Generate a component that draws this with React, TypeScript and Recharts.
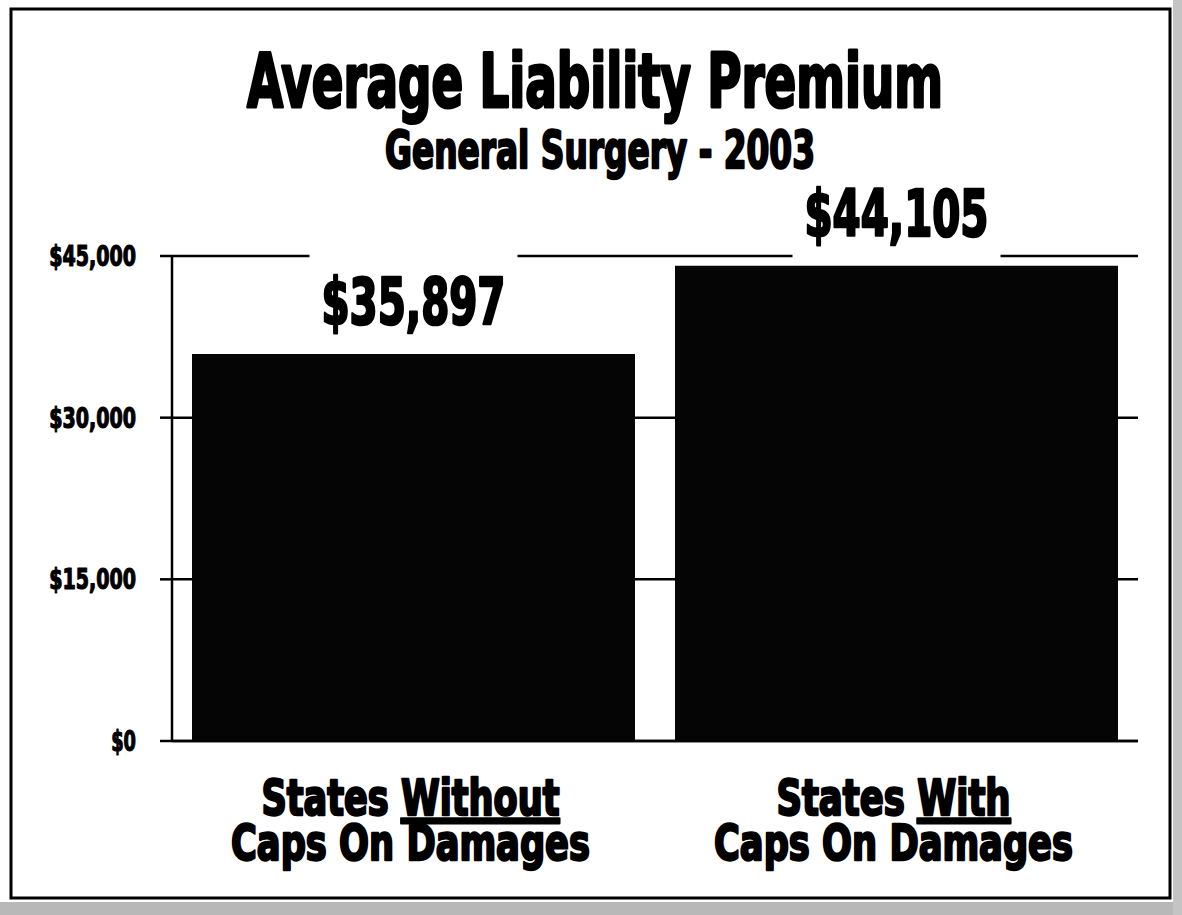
import { useLayoutEffect, useRef, useState } from 'react'
import { BarChart, Bar, XAxis, YAxis, CartesianGrid, LabelList } from 'recharts'

const categoryLead = ['States', 'States']
const categoryKey = ['Without', 'With']
const categoryTail = ['Caps On Damages', 'Caps On Damages']
const premiums = [35897, 44105]
const yTicks = [0, 15000, 30000, 45000]

const FONT = "'Liberation Sans Narrow', 'DejaVu Sans Condensed', 'Roboto Condensed', sans-serif"

const data = premiums.map((value, i) => ({
  name: `${categoryLead[i]} ${categoryKey[i]} ${categoryTail[i]}`,
  value,
}))

const money = (v: number) => `$${v.toLocaleString('en-US')}`

// condensed heavy text, squeezed sideways to the width the Impact-like original takes
function Heavy(props: any) {
  const { x, y, size, width, weight = 2, anchor = 'middle', children } = props
  const ref = useRef<SVGTextElement>(null)
  const [sx, setSx] = useState(1)
  useLayoutEffect(() => {
    const natural = ref.current ? ref.current.getComputedTextLength() : 0
    if (natural > 0) setSx(width / natural)
  }, [width, children])
  return (
    <text
      ref={ref}
      transform={`translate(${x},${y}) scale(${sx},1)`}
      textAnchor={anchor}
      fontFamily={FONT}
      fontWeight="bold"
      fontSize={size}
      stroke="#000"
      strokeWidth={weight}
      strokeLinejoin="round"
      fill="#000"
    >
      {children}
    </text>
  )
}

function ValueLabel(props: any) {
  const { x, y, width, value } = props
  const cx = x + width / 2
  const base = y - 30
  return (
    <g>
      <rect x={cx - 104} y={base - 76} width={208} height={100} fill="#fff" />
      <Heavy x={cx} y={base} size={64} width={184} weight={2.6}>
        {money(value)}
      </Heavy>
    </g>
  )
}

function MoneyTick(props: any) {
  const { x, y, payload } = props
  const label = money(payload.value)
  return (
    <Heavy x={x} y={y + 10} size={28} width={label.length * 12.4} weight={1.2} anchor="end">
      {label}
    </Heavy>
  )
}

function CategoryTick(props: any) {
  const { x, y, index } = props
  const cx = x - 3
  const lead = categoryLead[index]
  const key = categoryKey[index]
  const tail = categoryTail[index]
  return (
    <g>
      <Heavy x={cx} y={y + 74} size={50} width={(lead.length + key.length + 1) * 21.3} weight={2.4}>
        {lead}{' '}
        <tspan style={{ textDecoration: 'underline' }}>{key}</tspan>
      </Heavy>
      <Heavy x={cx} y={y + 119} size={50} width={359} weight={2.4}>
        {tail}
      </Heavy>
    </g>
  )
}

export default function App() {
  return (
    <div style={{ position: 'absolute', left: 0, top: 0, width: 1182, height: 915, background: '#fff', overflow: 'hidden' }}>
      <BarChart
        width={1182}
        height={915}
        data={data}
        margin={{ top: 256, right: 44, bottom: 0, left: 0 }}
        barCategoryGap={20}
      >
        <CartesianGrid vertical={false} stroke="#000" strokeWidth={2.5} strokeOpacity={1} />
        <XAxis
          dataKey="name"
          height={174}
          tickLine={false}
          tickSize={0}
          tickMargin={0}
          axisLine={{ stroke: '#000', strokeWidth: 2.5 }}
          tick={<CategoryTick />}
          interval={0}
        />
        <YAxis
          width={172}
          domain={[0, 45000]}
          ticks={yTicks}
          axisLine={{ stroke: '#000', strokeWidth: 2.5 }}
          tickLine={{ stroke: '#000', strokeWidth: 2.5 }}
          tickSize={12}
          tickMargin={24}
          tick={<MoneyTick />}
        />
        <Bar dataKey="value" fill="#050505" isAnimationActive={false}>
          <LabelList dataKey="value" content={<ValueLabel />} />
        </Bar>
      </BarChart>
      <svg width={1182} height={915} style={{ position: 'absolute', left: 0, top: 0, pointerEvents: 'none' }}>
        <rect x={11} y={9} width={1159} height={889} fill="none" stroke="#000" strokeWidth={3} />
        <rect x={0} y={902} width={1182} height={13} fill="#b8b8b8" />
        <rect x={1173} y={0} width={9} height={915} fill="#c4c4c4" />
        <Heavy x={595} y={107} size={74} width={696} weight={3}>
          Average Liability Premium
        </Heavy>
        <Heavy x={600} y={168} size={51} width={430} weight={2.4}>
          General Surgery - 2003
        </Heavy>
      </svg>
    </div>
  )
}
